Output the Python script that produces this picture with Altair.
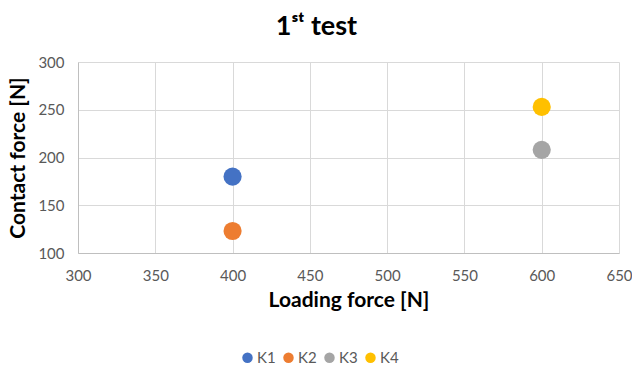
import altair as alt
import pandas as pd

series = ["K1", "K2", "K3", "K4"]
loading = [400, 400, 600, 600]
contact = [180, 123, 208, 253]
colors = ["#4472C4", "#ED7D31", "#A5A5A5", "#FFC000"]

df = pd.DataFrame({"series": series, "loading": loading, "contact": contact})

font = "Lato"

chart = alt.Chart(df).mark_circle(size=330, opacity=1).encode(
    x=alt.X("loading:Q", title="Loading force [N]",
            scale=alt.Scale(domain=[300, 650], nice=False),
            axis=alt.Axis(values=list(range(300, 651, 50)), grid=True, labelFlush=False)),
    y=alt.Y("contact:Q", title="Contact force [N]",
            scale=alt.Scale(domain=[100, 300], nice=False),
            axis=alt.Axis(values=list(range(100, 301, 50)), grid=True, labelFlush=False)),
    color=alt.Color("series:N", scale=alt.Scale(domain=series, range=colors),
                    legend=alt.Legend(title=None, orient="none", direction="horizontal",
                                      legendX=162, legendY=288, symbolType="circle",
                                      symbolSize=110, labelFontSize=15, labelColor="#595959",
                                      labelFont=font, columnPadding=5, labelOffset=2)),
).properties(
    width=541, height=191,
    title=alt.Title("1ˢᵗ test", fontSize=27, font=font, fontWeight="bold", color="#000000",
                    anchor="middle", dx=-32, offset=14),
    autosize=alt.AutoSizeParams(type="none"),
    padding={"left": 78, "top": 62, "right": 13, "bottom": 114},
).configure_view(stroke=None).configure_axis(
    gridColor="#d9d9d9", domainColor="#bfbfbf", ticks=False,
    labelFont=font, labelFontSize=15, labelColor="#595959",
    titleFont=font, titleFontSize=21, titleFontWeight="bold", titleColor="#000000",
).configure_axisX(labelPadding=15, titlePadding=6).configure_axisY(
    labelPadding=14, titlePadding=9, domain=True
)

chart.save("out.html", embed_options={"renderer": "svg", "actions": False})
